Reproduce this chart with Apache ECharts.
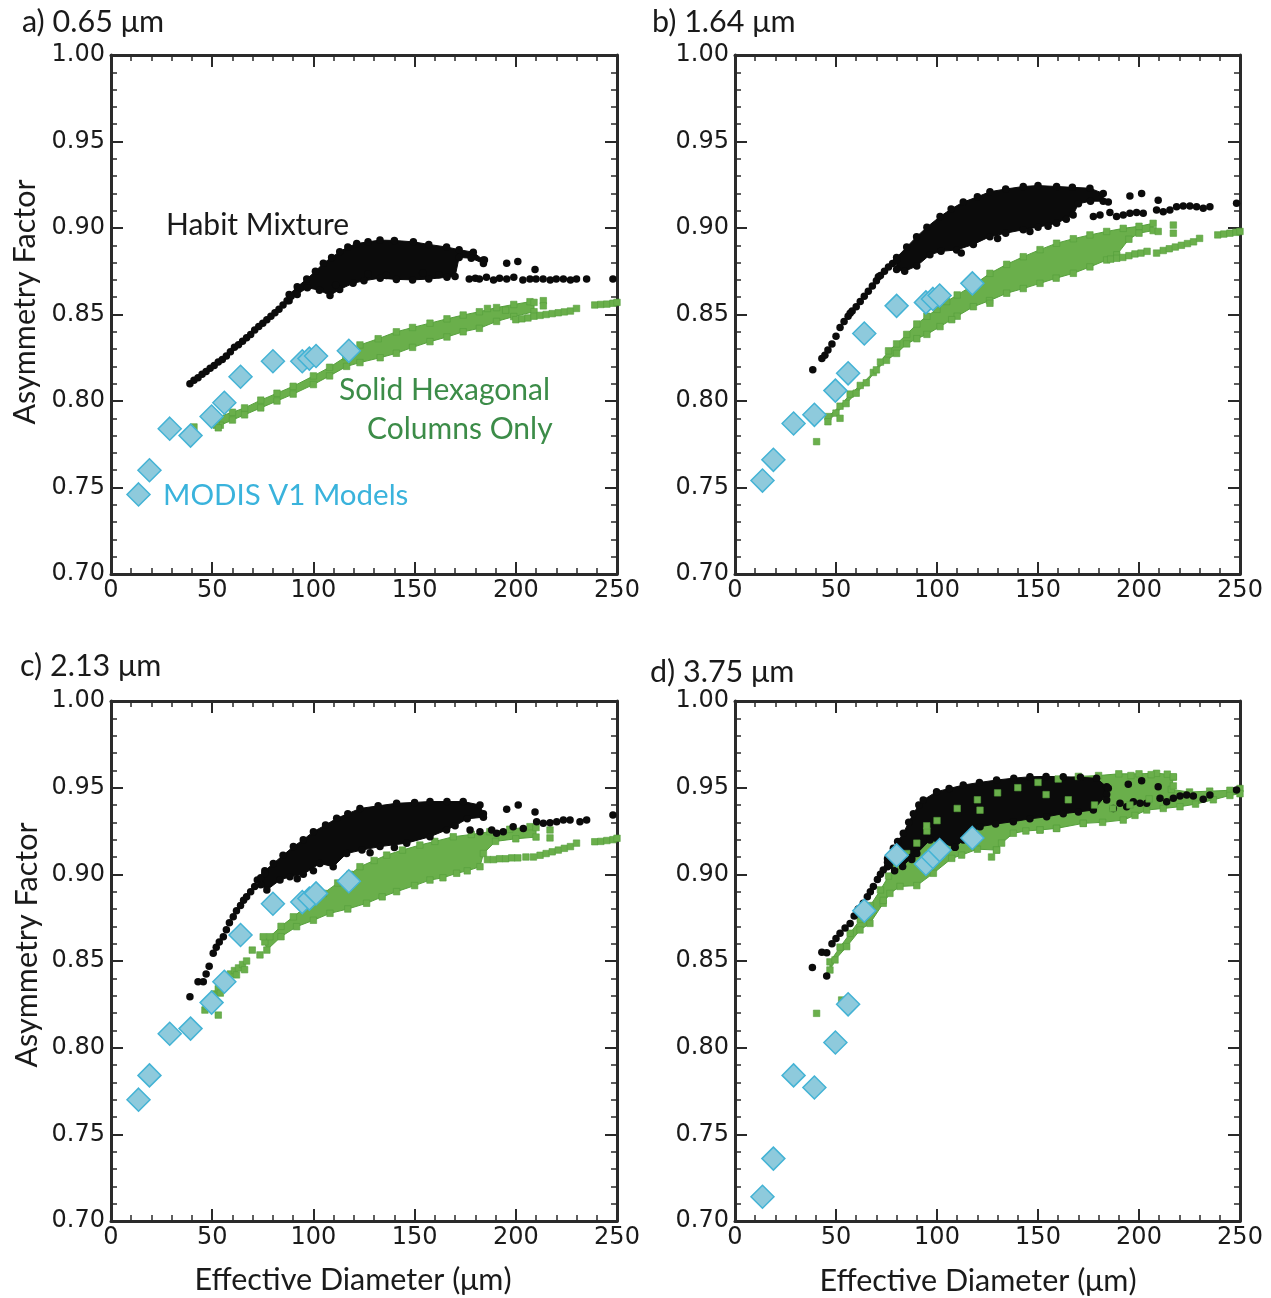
<!DOCTYPE html>
<html><head><meta charset="utf-8">
<script src="https://cdn.jsdelivr.net/npm/echarts@6/dist/echarts.min.js"></script>
<style>html,body{margin:0;padding:0;background:#fff}#c{width:1271px;height:1298px}</style>
</head><body><div id="c"></div>
<script>
// ---------------- DATA ----------------
const xTicks = [0, 50, 100, 150, 200, 250];
const yTicks = [0.70, 0.75, 0.80, 0.85, 0.90, 0.95, 1.00];
const panelTitles = ['a) 0.65 μm', 'b) 1.64 μm', 'c) 2.13 μm', 'd) 3.75 μm'];

// MODIS V1 model effective diameters and asymmetry factors
const modisX = [13.6, 19, 29, 39.3, 49.7, 56, 64, 80, 94.5, 98, 101.3, 117.5];
const modisA = [0.746, 0.760, 0.784, 0.780, 0.791, 0.799, 0.814, 0.823, 0.823, 0.8245, 0.826, 0.829];
const modisB = [0.754, 0.766, 0.787, 0.792, 0.806, 0.816, 0.839, 0.855, 0.857, 0.859, 0.861, 0.868];
const modisC = [0.770, 0.784, 0.808, 0.811, 0.826, 0.838, 0.865, 0.883, 0.884, 0.886, 0.889, 0.896];
const modisD = [0.714, 0.736, 0.784, 0.777, 0.803, 0.825, 0.879, 0.911, 0.906, 0.910, 0.914, 0.921];

// ---- panel a (0.65 um) ----
const habitA_line = [[39,0.810],[41,0.812],[43,0.8135],[45,0.8155],[47,0.817],[49,0.819],[51,0.8205],[53,0.8225],[55,0.824],[57,0.826],[59,0.8285],[61,0.831],[63,0.8325],[65,0.8345],[67,0.8365],[69,0.8385],[71,0.841],[73,0.843],[75,0.845],[77,0.847],[79,0.849],[81,0.851],[83,0.853],[85,0.8555],[87,0.858],[89,0.8605]];
const habitA_band = [[88,0.8615],[92,0.866],[96.7,0.8705],[101,0.875],[104.9,0.8796],[109,0.883],[113,0.8863],[117,0.889],[121.4,0.891],[127,0.892],[132.9,0.893],[140,0.8928],[149.4,0.892],[157,0.8905],[165.8,0.889],[172,0.8875],[179,0.886],[184,0.8815],
  [184,0.8795],[178,0.8825],[172,0.883],[170,0.872],[166,0.8715],[157,0.8705],[149,0.870],[141,0.8703],[133,0.871],[125,0.8695],[119.6,0.868],[113,0.8645],[108.2,0.861],[103,0.864],[97,0.8655],[92,0.8615],[88,0.858]];
const habitA_sparse = [[184.5,0.8815],[195.5,0.8796],[201,0.8806],[209.5,0.876],[177,0.8705],[180,0.871],[182,0.8705],[185.5,0.8715],[189,0.870],[192,0.871],[195.5,0.8705],[199,0.8715],[203.5,0.870],[207,0.8705],[210,0.8705],[213.5,0.8705],[217,0.870],[220,0.8705],[223.5,0.8705],[227,0.870],[230,0.8705],[235,0.8705],[248,0.8705],[111,0.867],[127,0.8735],[136,0.8725],[154,0.874],[162,0.873]];
const hexA_band = [[52,0.7905],[60,0.7935],[66,0.796],[74,0.8005],[82,0.8045],[90,0.8085],[100,0.8145],[108,0.8195],[116,0.8256],[123,0.8324],[132,0.836],[141,0.840],[149,0.8425],[157.6,0.845],[166,0.8475],[174,0.8497],[182,0.8516],[190.5,0.854],[199,0.8558],[207,0.8574],[209,0.857],
  [209,0.8516],[199,0.8488],[190.5,0.846],[182,0.842],[174,0.840],[166,0.837],[157.6,0.8343],[149,0.831],[141,0.8276],[133,0.825],[123,0.8222],[116.4,0.820],[108,0.8145],[100,0.8095],[90,0.804],[82,0.800],[74,0.796],[66,0.792],[60,0.789],[54,0.786],[52,0.786]];
const hexA_pts = [[41,0.785],[53,0.7845],[200,0.847],[203,0.8475],[206,0.848],[209,0.849],[212,0.8495],[215,0.850],[218,0.8505],[221,0.851],[224,0.8515],[227,0.852],[230,0.8535],[213.6,0.858],[213.6,0.855],[186,0.8535],[195,0.8525],[239,0.8555],[242,0.8558],[245,0.856],[248,0.8565],[250,0.857]];

// ---- panel b (1.64 um) ----
const habitB_line = [[38.5,0.818],[43,0.8245],[44.5,0.8265],[46,0.8295],[48,0.833],[50,0.8375],[52,0.8425],[54,0.846],[56,0.849],[57,0.8507],[58,0.852],[60,0.8545],[62,0.8575],[64,0.8605],[66,0.8635],[68,0.8665],[70,0.8695],[71,0.8718],[72,0.8725],[74,0.875],[76,0.8775],[78,0.8795],[80,0.8815]];
const habitB_band = [[80,0.883],[85,0.889],[89.9,0.895],[95,0.9005],[101.5,0.9066],[107,0.911],[113,0.915],[120,0.918],[126.2,0.921],[134,0.9225],[142.7,0.924],[150,0.9245],[159.2,0.924],[167,0.9235],[175.7,0.923],[182.3,0.920],
  [182.3,0.9155],[176,0.9155],[170,0.914],[167.4,0.9075],[159.2,0.9027],[150,0.9005],[142.7,0.899],[134,0.897],[126.2,0.895],[118,0.8905],[109.7,0.8873],[102,0.8865],[96.5,0.8845],[90,0.878],[84,0.875],[80,0.876]];
const habitB_sparse = [[184.8,0.915],[195.5,0.9185],[201.3,0.920],[209.5,0.916],[177.4,0.9066],[180.7,0.9075],[185.6,0.9089],[188.9,0.9066],[192.2,0.9075],[195.5,0.9085],[198.8,0.9089],[202.1,0.9085],[208.7,0.9104],[212,0.9094],[215.3,0.9104],[218.6,0.9123],[221.9,0.9127],[225.2,0.9127],[228.5,0.9123],[231.8,0.9114],[235.1,0.9123],[248.3,0.9143],[112,0.8855],[130,0.894],[146,0.898],[155,0.901],[164,0.905]];
const hexB_band = [[46,0.791],[52,0.797],[57,0.804],[62,0.809],[68.5,0.8165],[72,0.8225],[76,0.829],[80,0.833],[85,0.8385],[90,0.8445],[95,0.849],[100,0.853],[104.8,0.8575],[110,0.8613],[118,0.867],[126.2,0.8738],[134.5,0.879],[142.7,0.8834],[151,0.8875],[159.2,0.8912],[167.5,0.8938],[175.7,0.896],[184,0.898],[192.2,0.8998],[200,0.901],[207,0.9027],
  [207,0.8985],[200,0.897],[195,0.8935],[189,0.8845],[184,0.8815],[175.7,0.8775],[167.5,0.8738],[159,0.871],[151,0.868],[142.7,0.865],[134.5,0.8623],[126,0.858],[118,0.8545],[110,0.849],[101.5,0.843],[95,0.8385],[90,0.836],[85,0.833],[80,0.8275],[75,0.8235],[70,0.818],[65,0.8105],[60,0.8045],[55,0.7985],[50,0.793],[46,0.788]];
const hexB_pts = [[40.4,0.7765],[52,0.790],[126.2,0.8565],[107.3,0.847],[186,0.882],[189,0.8825],[192,0.883],[195,0.884],[198,0.885],[201,0.8855],[204,0.8865],[208.7,0.8855],[212,0.887],[215,0.888],[218,0.889],[221,0.890],[224,0.891],[227,0.892],[230,0.894],[217,0.9017],[217,0.897],[209.5,0.898],[239,0.896],[242,0.8965],[245,0.897],[248,0.8975],[250,0.898]];

// ---- panel c (2.13 um) ----
const habitC_line = [[39,0.8294],[43,0.838],[45.6,0.838],[47,0.8425],[48.5,0.847],[50.5,0.8544],[52,0.858],[53.5,0.861],[55.5,0.864],[57,0.868],[58.5,0.872],[60.4,0.8755],[62,0.879],[64,0.882],[65.5,0.885],[67,0.887],[69,0.890],[71,0.893],[72.3,0.8967],[74,0.898],[76,0.9005]];
const habitC_band = [[76,0.902],[80.2,0.9063],[85,0.911],[90.1,0.916],[95,0.920],[100,0.9246],[106,0.9285],[111.5,0.9323],[117,0.935],[123,0.938],[132,0.9395],[141.1,0.941],[150,0.9415],[157.6,0.942],[166,0.942],[174,0.942],[182.3,0.940],[184,0.935],
  [184,0.933],[176,0.932],[170,0.928],[165.8,0.9256],[157.6,0.9217],[146.1,0.918],[132.9,0.916],[124,0.914],[116.4,0.912],[109.8,0.9044],[103.2,0.9063],[95,0.900],[88.4,0.8986],[83.5,0.8967],[77,0.891],[74,0.894]];
const habitC_sparse = [[195.5,0.9375],[201.2,0.940],[209.5,0.936],[177.4,0.9256],[182.3,0.9246],[188.1,0.9256],[190.5,0.9237],[193.8,0.9246],[198.7,0.9275],[203.7,0.9265],[210.3,0.9304],[213.6,0.9294],[216.9,0.9298],[220.2,0.9304],[223.5,0.9313],[226.8,0.9313],[231.7,0.9304],[235,0.9313],[248,0.9342],[92,0.8975],[100,0.902],[128,0.9125],[140,0.9155]];
const hexC_band = [[76,0.861],[78.5,0.864],[84,0.870],[90.1,0.8755],[97,0.882],[104.9,0.889],[112,0.895],[118,0.900],[123,0.9044],[130,0.908],[136.2,0.9111],[144,0.914],[152.6,0.9169],[160,0.919],[169.1,0.9217],[178,0.923],[187.2,0.9246],[197,0.926],[207,0.9275],[210,0.927],
  [210,0.9215],[200,0.9205],[190,0.919],[184,0.912],[182.3,0.9044],[176,0.902],[170.8,0.9006],[164,0.898],[157.6,0.8967],[150,0.8935],[141.1,0.890],[134,0.887],[126.3,0.8833],[117,0.880],[108.2,0.8775],[100,0.8735],[91.7,0.8698],[84,0.864],[77,0.8563]];
const hexC_pts = [[46.4,0.8217],[53,0.8188],[47,0.824],[49,0.827],[51,0.831],[53,0.834],[55,0.837],[57,0.840],[59,0.8425],[61,0.8445],[63,0.846],[65,0.848],[67,0.850],[50,0.8245],[54,0.8315],[58,0.838],[62,0.842],[66,0.845],[69.8,0.8563],[73.6,0.8535],[75.2,0.864],[186,0.9085],[189,0.9085],[192,0.909],[195,0.909],[198,0.9095],[201,0.9095],[205,0.910],[208.7,0.910],[212,0.911],[215,0.912],[218,0.913],[221,0.914],[224,0.915],[227,0.916],[230,0.918],[216.9,0.9256],[216.9,0.921],[239,0.9188],[242,0.919],[245,0.9195],[248,0.920],[250,0.9208]];

// ---- panel d (3.75 um) ----
const habitD_line = [[38.3,0.8463],[45.4,0.8413],[43,0.855],[45.4,0.8548],[48,0.860],[50,0.863],[52,0.866],[54.5,0.869],[57,0.8717],[59,0.876],[61,0.880],[63.5,0.8833],[65.5,0.887],[67,0.890],[68.5,0.893],[70.5,0.897],[72,0.900],[73.4,0.9025],[75.5,0.907]];
const habitD_band = [[75.5,0.909],[78.4,0.915],[80.5,0.919],[83.3,0.9237],[86,0.930],[88.3,0.935],[91,0.940],[93.2,0.9429],[99.8,0.9477],[106,0.9495],[113,0.9515],[121,0.953],[129.5,0.9544],[138,0.9555],[146,0.9563],[154,0.9565],[162.5,0.9563],[171,0.956],[179,0.9554],[184,0.9505],
  [184,0.946],[177.4,0.9371],[170,0.936],[162.5,0.935],[154.3,0.9332],[146,0.932],[137.8,0.9304],[129,0.929],[121.3,0.9275],[113,0.9198],[108.9,0.9156],[103,0.918],[96.5,0.9198],[90,0.912],[87.5,0.910],[83,0.9045],[79,0.902],[75.5,0.9044]];
const habitD_sparse = [[184.8,0.9496],[194.7,0.952],[201.3,0.954],[209.5,0.9505],[184,0.9429],[187.3,0.938],[190.6,0.941],[193.9,0.939],[197.2,0.9419],[200.5,0.941],[203.8,0.941],[210.4,0.9439],[213.7,0.9419],[217,0.9439],[220.3,0.9452],[223.6,0.9458],[226.9,0.9452],[231.8,0.9433],[235.1,0.9458],[248.3,0.9486],[87.5,0.9085],[108.9,0.9156]];
const hexD_band = [[47,0.8495],[52,0.858],[57,0.866],[62,0.874],[67,0.882],[72,0.891],[76,0.899],[80,0.905],[85,0.912],[90,0.918],[95,0.925],[100,0.931],[110,0.938],[120,0.943],[130,0.947],[140,0.950],[150,0.953],[160,0.955],[170,0.9565],[180,0.957],[190,0.958],[200,0.958],[208.7,0.9583],[214,0.9578],[217,0.956],[216,0.949],[225,0.9475],[235,0.948],[245,0.9485],[250,0.9495],
  [250,0.9465],[245,0.9455],[236.8,0.943],[228,0.9405],[220.3,0.939],[212,0.938],[203.8,0.9371],[198,0.934],[192.2,0.9313],[182,0.930],[172.4,0.9294],[159.2,0.9265],[151,0.9256],[144,0.925],[137.8,0.9237],[132,0.918],[129.5,0.914],[120,0.9145],[112.2,0.9111],[107.3,0.9092],[98.2,0.9006],[90,0.8935],[81.7,0.893],[76.7,0.889],[73.4,0.8833],[66.8,0.8717],[61.9,0.8679],[55.3,0.8583],[49.5,0.8506],[47,0.8448]];
const hexD_pts = [[40.4,0.8198],[52.8,0.8275],[73.4,0.885],[127,0.910],[129.5,0.914],[151,0.9256],[159.2,0.9265],[172.4,0.9294],[94.9,0.928],[121.3,0.937],[154,0.946],[165,0.943],[178,0.940],[187,0.938],[195.5,0.940],[205,0.9435],[217,0.9563],[217,0.951],[196,0.957],[206,0.9575]];

// ---------------- CHART ----------------
const chart = echarts.init(document.getElementById('c'), null, {renderer: 'canvas'});
const AX = '#2a2a2a';
const grids = [
  {left: 111, top: 55, width: 506, height: 519},
  {left: 735, top: 55, width: 505, height: 519},
  {left: 111, top: 701, width: 506, height: 520},
  {left: 735, top: 701, width: 505, height: 520}
];
const xAxes = [], yAxes = [];
grids.forEach((g, i) => {
  ['bottom', 'top'].forEach(pos => xAxes.push({
    type: 'value', gridIndex: i, position: pos, min: xTicks[0], max: xTicks[xTicks.length - 1], interval: xTicks[1] - xTicks[0],
    axisLine: {show: true, onZero: false, lineStyle: {color: AX, width: 3}},
    axisTick: {show: true, inside: true, length: 12, lineStyle: {color: AX, width: 2}},
    minorTick: {show: true, splitNumber: 5, length: 6, lineStyle: {color: AX, width: 1.5}},
    splitLine: {show: false}, minorSplitLine: {show: false},
    axisLabel: {show: pos === 'bottom', color: '#1a1a1a', fontFamily: 'DejaVu Sans', fontSize: 24, margin: 5}
  }));
  ['left', 'right'].forEach(pos => yAxes.push({
    type: 'value', gridIndex: i, position: pos, min: yTicks[0], max: yTicks[yTicks.length - 1], interval: 0.05,
    axisLine: {show: true, onZero: false, lineStyle: {color: AX, width: 3}},
    axisTick: {show: true, inside: true, length: 12, lineStyle: {color: AX, width: 2}},
    minorTick: {show: true, splitNumber: 5, length: 6, lineStyle: {color: AX, width: 1.5}},
    splitLine: {show: false}, minorSplitLine: {show: false},
    axisLabel: {show: pos === 'left', color: '#1a1a1a', fontFamily: 'DejaVu Sans', fontSize: 24, margin: 6,
      formatter: v => v.toFixed(2)}
  }));
});

const BLACK = '#0b0b0b', GREEN = '#6aaf4b', GREEN_EDGE = '#56a03c';
function poly(i, pts, fill, stroke) {
  return {type: 'custom', xAxisIndex: 2 * i, yAxisIndex: 2 * i, data: [[0, 0]], silent: true,
    renderItem: (p, api) => ({type: 'polygon', shape: {points: pts.map(q => api.coord(q))},
      style: {fill: fill, stroke: stroke, lineWidth: 1}})};
}
function blackDots(i, pts) {
  return {type: 'scatter', xAxisIndex: 2 * i, yAxisIndex: 2 * i, data: pts, symbol: 'circle', symbolSize: 7.5,
    itemStyle: {color: BLACK, opacity: 1}, silent: true};
}
function greenSq(i, pts) {
  return {type: 'scatter', xAxisIndex: 2 * i, yAxisIndex: 2 * i, data: pts, symbol: 'rect', symbolSize: 6.5,
    itemStyle: {color: GREEN, borderColor: GREEN_EDGE, borderWidth: 0.6, opacity: 1}, silent: true};
}
function diamonds(i, ys) {
  return {type: 'scatter', xAxisIndex: 2 * i, yAxisIndex: 2 * i, data: modisX.map((x, k) => [x, ys[k]]),
    symbol: 'diamond', symbolSize: 23, itemStyle: {color: '#8ecadc', borderColor: '#44b3d5', borderWidth: 1.5, opacity: 1}, silent: true};
}

const panels = [
  {hb: hexA_band, hp: hexA_pts, bl: habitA_line, bb: habitA_band, bs: habitA_sparse, m: modisA},
  {hb: hexB_band, hp: hexB_pts, bl: habitB_line, bb: habitB_band, bs: habitB_sparse, m: modisB},
  {hb: hexC_band, hp: hexC_pts, bl: habitC_line, bb: habitC_band, bs: habitC_sparse, m: modisC},
  {hb: hexD_band, hp: hexD_pts, bl: habitD_line, bb: habitD_band, bs: habitD_sparse, m: modisD}
];
const series = [];
panels.forEach((P, i) => {
  series.push(poly(i, P.hb, GREEN, GREEN_EDGE));
  series.push(greenSq(i, P.hb));
  if (i !== 3) series.push(greenSq(i, P.hp));
  series.push(poly(i, P.bb, BLACK, BLACK));
  series.push(blackDots(i, P.bb));
  series.push(blackDots(i, P.bl));
  series.push(blackDots(i, P.bs));
  if (i === 3) series.push(greenSq(i, P.hp));
  series.push(diamonds(i, P.m));
});

function T(x, y, text, size, color, extra) {
  return Object.assign({type: 'text', x: x, y: y, silent: true,
    style: {text: text, font: size + 'px Lato, "Open Sans", sans-serif', fill: color, textVerticalAlign: 'middle'}}, extra || {});
}
const graphic = [
  T(22, 22, panelTitles[0], 30.5, '#1a1a1a'),
  T(652, 22, panelTitles[1], 30.5, '#1a1a1a'),
  T(20, 666, panelTitles[2], 30.5, '#1a1a1a'),
  T(650, 672, panelTitles[3], 30.5, '#1a1a1a'),
  T(166, 225, 'Habit Mixture', 30, '#1a1a1a'),
  T(339, 390, 'Solid Hexagonal', 30, '#3c8c48'),
  T(367, 429, 'Columns Only', 30, '#3c8c48'),
  T(163, 495, 'MODIS V1 Models', 29.5, '#3ab3dc'),
  {type: 'text', x: 25, y: 302, rotation: Math.PI / 2, silent: true,
    style: {text: 'Asymmetry Factor', font: '30.5px Lato, sans-serif', fill: '#1a1a1a', textAlign: 'center', textVerticalAlign: 'middle'}},
  {type: 'text', x: 27, y: 945, rotation: Math.PI / 2, silent: true,
    style: {text: 'Asymmetry Factor', font: '30.5px Lato, sans-serif', fill: '#1a1a1a', textAlign: 'center', textVerticalAlign: 'middle'}},
  {type: 'text', x: 353, y: 1280, silent: true,
    style: {text: 'Effective Diameter (μm)', font: '30.5px Lato, sans-serif', fill: '#1a1a1a', textAlign: 'center', textVerticalAlign: 'middle'}},
  {type: 'text', x: 978, y: 1281, silent: true,
    style: {text: 'Effective Diameter (μm)', font: '30.5px Lato, sans-serif', fill: '#1a1a1a', textAlign: 'center', textVerticalAlign: 'middle'}}
];

chart.setOption({
  backgroundColor: '#fff',
  animation: false,
  grid: grids,
  xAxis: xAxes,
  yAxis: yAxes,
  series: series,
  graphic: graphic
});
</script></body></html>
